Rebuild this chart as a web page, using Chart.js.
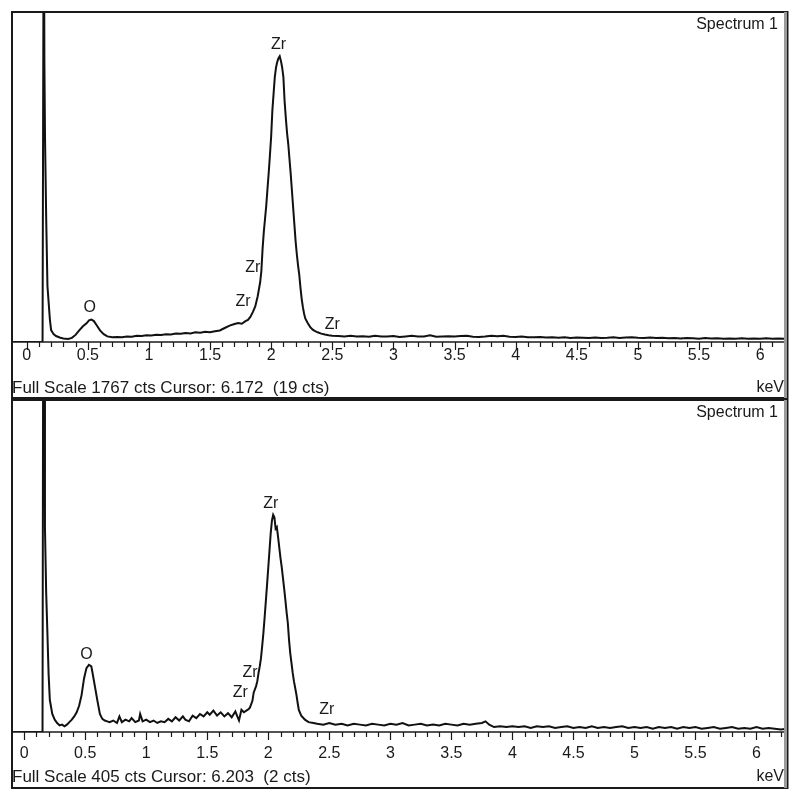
<!DOCTYPE html>
<html>
<head>
<meta charset="utf-8">
<script src="https://cdn.jsdelivr.net/npm/chart.js@4.4.1/dist/chart.umd.min.js"></script>
<style>
  body { margin: 0; background: #fff; }
  #wrap { position: relative; width: 800px; height: 800px; }
  .panel { position: absolute; left: 0; width: 800px; }
</style>
</head>
<body>
<div id="wrap">
  <div class="panel" style="top:0;height:400px"><canvas id="topChart" width="800" height="400"></canvas></div>
  <div class="panel" style="top:388px;height:412px"><canvas id="bottomChart" width="800" height="412"></canvas></div>
</div>
<script>
// spectrum 1 (upper panel), energy in keV / counts
const energyTop = [
  -0.12, 0.13, 0.14, 0.145, 0.15, 0.16, 0.17, 0.19, 0.20, 0.22,
  0.24, 0.27, 0.30, 0.34, 0.37, 0.40, 0.43, 0.46, 0.49, 0.51,
  0.53, 0.55, 0.57, 0.60, 0.63, 0.66, 0.70, 0.74, 0.78, 0.82,
  0.86, 0.90, 0.94, 0.98, 1.02, 1.06, 1.10, 1.14, 1.18, 1.22,
  1.26, 1.30, 1.34, 1.38, 1.42, 1.46, 1.50, 1.54, 1.58, 1.62,
  1.66, 1.70, 1.73, 1.76, 1.79, 1.81, 1.83, 1.85, 1.87, 1.89,
  1.91, 1.92, 1.93, 1.94, 1.95, 1.96, 1.97, 1.98, 1.99, 2.00,
  2.01, 2.02, 2.03, 2.04, 2.05, 2.06, 2.07, 2.08, 2.09, 2.10,
  2.11, 2.12, 2.13, 2.14, 2.15, 2.16, 2.17, 2.18, 2.19, 2.20,
  2.21, 2.22, 2.23, 2.24, 2.25, 2.26, 2.27, 2.28, 2.30, 2.32,
  2.34, 2.36, 2.38, 2.41, 2.44, 2.47, 2.50, 2.55, 2.60, 2.65,
  2.70, 2.75, 2.80, 2.85, 2.90, 2.95, 3.00, 3.05, 3.10, 3.15,
  3.20, 3.25, 3.30, 3.35, 3.40, 3.45, 3.50, 3.55, 3.60, 3.65,
  3.70, 3.75, 3.80, 3.85, 3.90, 3.95, 4.00, 4.05, 4.10, 4.15,
  4.20, 4.25, 4.30, 4.35, 4.40, 4.45, 4.50, 4.55, 4.60, 4.65,
  4.70, 4.75, 4.80, 4.85, 4.90, 4.95, 5.00, 5.05, 5.10, 5.15,
  5.20, 5.25, 5.30, 5.35, 5.40, 5.45, 5.50, 5.55, 5.60, 5.65,
  5.70, 5.75, 5.80, 5.85, 5.90, 5.95, 6.00, 6.05, 6.10, 6.15,
  6.20, 6.24
];
const countsTop = [
  0, 0, 2600, 1500, 1100, 650, 300, 120, 64, 42,
  32, 24, 19, 16, 22, 38, 62, 84, 100, 116,
  120, 112, 92, 62, 42, 30, 26, 27, 25, 30,
  28, 33, 32, 36, 35, 39, 38, 42, 40, 45,
  44, 48, 46, 52, 50, 55, 52, 58, 62, 75,
  88, 96, 102, 98, 112, 118, 134, 160, 190, 245,
  320, 380, 500, 590, 660, 730, 820, 905, 1000, 1100,
  1240, 1330, 1420, 1470, 1500, 1520, 1530, 1505, 1470, 1420,
  1290, 1200, 1120, 1060, 980, 900, 810, 720, 630, 540,
  470, 410, 360, 290, 230, 185, 150, 125, 100, 80,
  66, 58, 52, 45, 40, 36, 34, 32, 30, 34,
  29, 31, 28, 33, 30, 29, 32, 27, 30, 33,
  29, 30, 36, 28, 30, 31, 29, 32, 33, 28,
  27, 29, 34, 31, 33, 28, 27, 30, 26, 25,
  27, 24, 25, 23, 26, 22, 24, 23, 21, 24,
  22, 23, 25, 22, 24, 26, 23, 22, 24, 21,
  23, 20, 22, 19, 22, 20, 18, 21, 19, 20,
  17, 19, 18, 20, 17, 19, 18, 20, 17, 19,
  18, 19
];

// spectrum 1 (lower panel)
const energyBottom = [
  -0.10, 0.15, 0.16, 0.165, 0.17, 0.18, 0.19, 0.20, 0.21, 0.23,
  0.25, 0.27, 0.29, 0.31, 0.33, 0.35, 0.37, 0.39, 0.41, 0.43,
  0.45, 0.47, 0.49, 0.51, 0.53, 0.55, 0.56, 0.58, 0.60, 0.62,
  0.64, 0.66, 0.68, 0.70, 0.73, 0.76, 0.78, 0.80, 0.83, 0.86,
  0.88, 0.91, 0.94, 0.95, 0.97, 1.00, 1.03, 1.06, 1.09, 1.12,
  1.15, 1.18, 1.21, 1.24, 1.27, 1.30, 1.32, 1.35, 1.38, 1.41,
  1.44, 1.47, 1.50, 1.52, 1.55, 1.58, 1.61, 1.64, 1.67, 1.70,
  1.73, 1.76, 1.78, 1.80, 1.82, 1.84, 1.85, 1.87, 1.88, 1.90,
  1.91, 1.92, 1.93, 1.94, 1.95, 1.96, 1.97, 1.98, 1.99, 2.00,
  2.01, 2.02, 2.03, 2.04, 2.05, 2.06, 2.07, 2.08, 2.09, 2.10,
  2.11, 2.12, 2.13, 2.14, 2.15, 2.16, 2.17, 2.18, 2.19, 2.20,
  2.21, 2.22, 2.23, 2.24, 2.25, 2.27, 2.30, 2.33, 2.37, 2.40,
  2.45, 2.50, 2.55, 2.60, 2.65, 2.70, 2.75, 2.80, 2.85, 2.90,
  2.95, 3.00, 3.05, 3.10, 3.15, 3.20, 3.25, 3.30, 3.35, 3.40,
  3.45, 3.50, 3.55, 3.60, 3.65, 3.70, 3.75, 3.78, 3.81, 3.85,
  3.90, 3.95, 4.00, 4.05, 4.10, 4.15, 4.20, 4.25, 4.30, 4.35,
  4.40, 4.45, 4.50, 4.55, 4.60, 4.65, 4.70, 4.75, 4.80, 4.85,
  4.90, 4.95, 5.00, 5.05, 5.10, 5.15, 5.20, 5.25, 5.30, 5.35,
  5.40, 5.45, 5.50, 5.55, 5.60, 5.65, 5.70, 5.75, 5.80, 5.85,
  5.90, 5.95, 6.00, 6.05, 6.10, 6.15, 6.20, 6.25
];
const countsBottom = [
  0, 0, 900, 600, 250, 170, 121, 70, 39, 22,
  15, 11, 8, 9, 7, 9, 12, 15, 19, 24,
  32, 45, 65, 78, 82, 80, 72, 55, 38, 22,
  16, 14, 13, 12, 14, 11, 19, 12, 15, 13,
  17, 12, 14, 22, 13, 15, 12, 14, 11, 13,
  12, 16, 13, 18, 14, 19, 15, 13, 20, 17,
  22, 19, 24, 21, 26, 20, 24, 19, 23, 18,
  25, 14, 27, 24, 26, 28, 30, 38, 48, 56,
  62, 72, 80, 90, 105, 121, 140, 160, 180, 201,
  222, 243, 258, 265, 262, 248, 250, 238, 225, 212,
  201, 188, 175, 161, 146, 133, 112, 96, 84, 72,
  62, 54, 46, 36, 27, 20, 15, 12, 11, 10,
  9, 11, 9, 10, 8, 10, 9, 8, 10, 9,
  8, 10, 9, 11, 8, 9, 10, 8, 9, 8,
  10, 9, 8, 10, 9, 10, 11, 13, 9, 6,
  7, 6, 7, 6, 7, 5, 7, 6, 7, 5,
  6, 7, 5, 6, 5, 7, 5, 6, 5, 6,
  7, 5, 6, 5, 6, 4, 6, 5, 6, 4,
  6, 5, 6, 4, 5, 6, 4, 5, 6, 4,
  5, 4, 6, 4, 5, 4, 3, 4
];

// peak markers
const peakNamesTop = ["O", "Zr", "Zr", "Zr", "Zr"];
const peakEnergyTop = [0.515, 2.06, 1.85, 1.77, 2.50];
const peakCountsTop = [182, 1590, 396, 214, 91];
const peakNamesBottom = ["O", "Zr", "Zr", "Zr", "Zr"];
const peakEnergyBottom = [0.51, 2.02, 1.85, 1.77, 2.48];
const peakCountsBottom = [94, 279, 72, 48, 27];

const FONT = '"Liberation Sans", Arial, sans-serif';

const edsFrame = {
  id: "edsFrame",
  afterDraw(chart, args, o) {
    const ctx = chart.ctx;
    const a = chart.chartArea;
    const xs = chart.scales.x, ys = chart.scales.y;
    ctx.save();
    ctx.strokeStyle = "#1a1a1a";
    ctx.fillStyle = "#1a1a1a";
    // axis line + ticks
    ctx.lineWidth = 1.5;
    ctx.beginPath();
    ctx.moveTo(a.left, a.bottom);
    ctx.lineTo(a.right, a.bottom);
    ctx.stroke();
    ctx.lineWidth = 1.2;
    for (let i = 0; i <= 62; i++) {
      const px = Math.round(xs.getPixelForValue(i / 10)) + 0.5;
      if (px > a.right - 1) break;
      const len = i % 5 === 0 ? 8 : 5;
      ctx.beginPath();
      ctx.moveTo(px, a.bottom);
      ctx.lineTo(px, a.bottom + len);
      ctx.stroke();
    }
    // frame
    ctx.lineWidth = 2;
    ctx.strokeRect(a.left, o.frameTop, a.right - a.left, o.frameBottom - o.frameTop);
    ctx.fillStyle = "#9a9a9a";
    ctx.fillRect(a.right - 3, o.frameTop, 3, o.frameBottom - o.frameTop);
    ctx.fillStyle = "#1a1a1a";
    ctx.fillRect(a.right, o.frameTop - 1, 1.5, o.frameBottom - o.frameTop + 2);
    // texts
    ctx.font = "16px " + FONT;
    ctx.textBaseline = "middle";
    ctx.textAlign = "right";
    ctx.fillText("Spectrum 1", a.right - 9, o.frameTop + 13);
    ctx.fillText("keV", a.right - 3, o.footerY);
    ctx.textAlign = "left";
    ctx.font = "17px " + FONT;
    ctx.fillText(o.footer, a.left, o.footerY);
    // peak labels
    ctx.font = "16px " + FONT;
    ctx.textAlign = "center";
    o.names.forEach((n, i) => {
      ctx.fillText(n, xs.getPixelForValue(o.energy[i]), ys.getPixelForValue(o.counts[i]));
    });
    ctx.restore();
  }
};

function makeChart(id, energy, counts, range, frame) {
  const pts = energy.map((e, i) => ({ x: e, y: counts[i] }));
  return new Chart(document.getElementById(id).getContext("2d"), {
    type: "line",
    data: {
      datasets: [{
        data: pts,
        borderColor: "#111",
        borderWidth: 2,
        pointRadius: 0,
        fill: false,
        tension: 0,
      }],
    },
    options: {
      responsive: false,
      animation: false,
      events: [],
      layout: { padding: { left: 12, right: 13, top: 12, bottom: 0 } },
      plugins: {
        legend: { display: false },
        tooltip: { enabled: false },
        edsFrame: frame,
      },
      scales: {
        x: {
          type: "linear",
          min: range.xmin,
          max: range.xmax,
          grid: { display: false, drawTicks: false },
          border: { display: false },
          ticks: {
            stepSize: 0.5,
            includeBounds: false,
            padding: range.labelPad,
            color: "#1a1a1a",
            font: { family: FONT, size: 16 },
            maxRotation: 0,
            callback: (v) => String(Math.round(v * 10) / 10),
          },
          afterFit: (s) => { s.height = range.axisH; },
        },
        y: { display: false, min: 0, max: range.ymax },
      },
    },
    plugins: [edsFrame],
  });
}

makeChart("topChart", energyTop, countsTop,
  { xmin: -0.12, xmax: 6.22, ymax: 1767, axisH: 58, labelPad: 4 },
  { frameTop: 12, frameBottom: 398, footerY: 388,
    footer: "Full Scale 1767 cts Cursor: 6.172  (19 cts)",
    names: peakNamesTop, energy: peakEnergyTop, counts: peakCountsTop });

makeChart("bottomChart", energyBottom, countsBottom,
  { xmin: -0.10, xmax: 6.25, ymax: 405, axisH: 68, labelPad: 12 },
  { frameTop: 12, frameBottom: 400, footerY: 389,
    footer: "Full Scale 405 cts Cursor: 6.203  (2 cts)",
    names: peakNamesBottom, energy: peakEnergyBottom, counts: peakCountsBottom });
</script>
</body>
</html>
